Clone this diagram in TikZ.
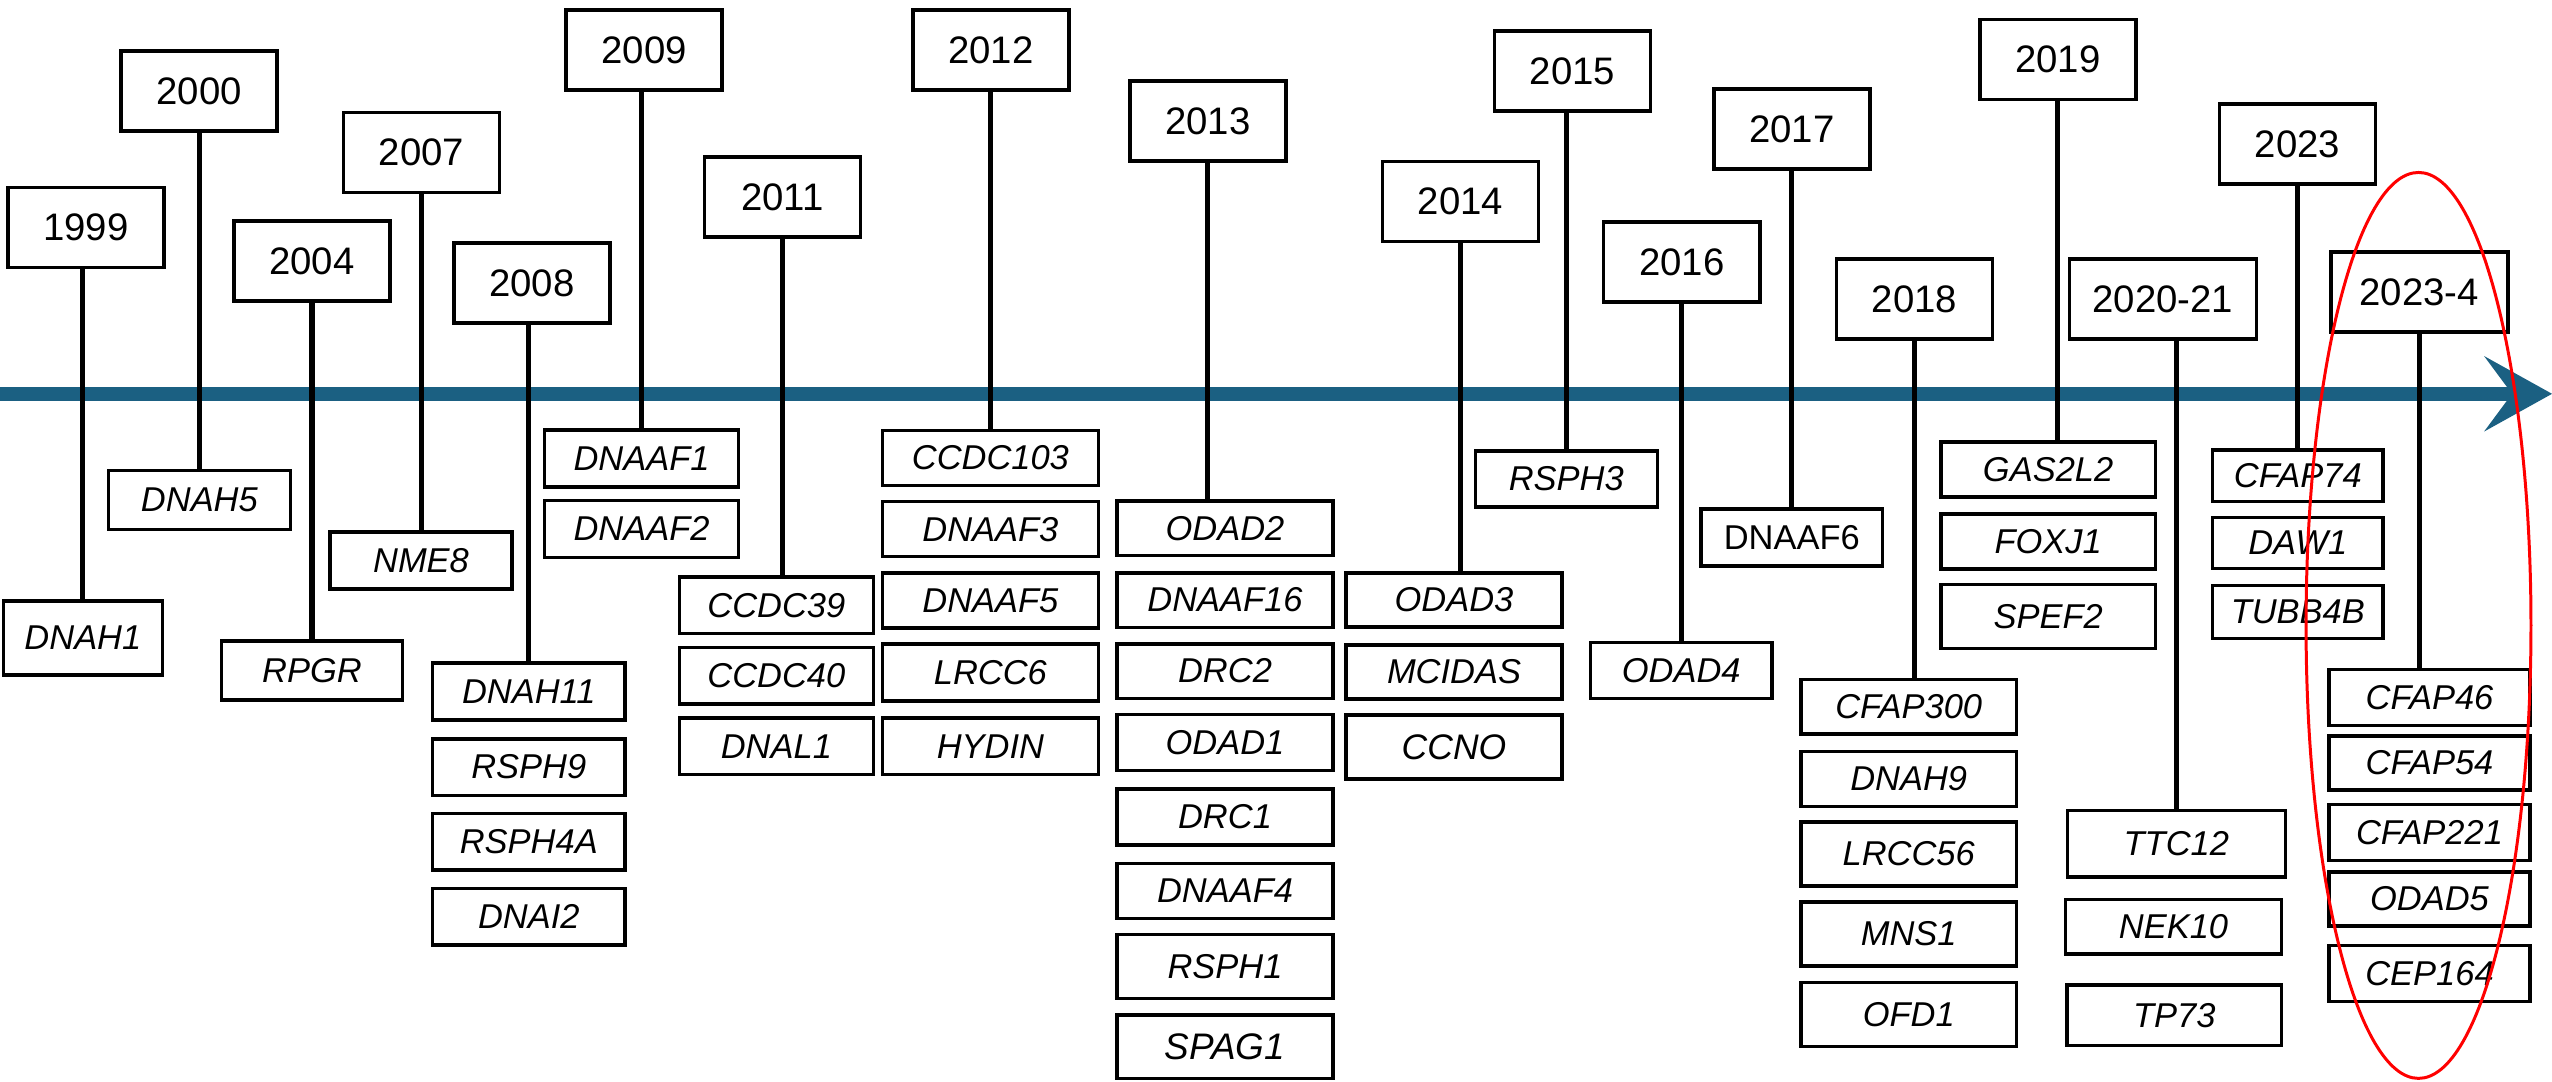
\documentclass[tikz,border=0pt]{standalone}
\usepackage{fontspec}
\setmainfont{Liberation Sans}
\definecolor{axisblue}{RGB}{27,96,130}
\tikzset{
  yr/.style={draw, line width=1.0pt, fill=white, inner sep=0pt, minimum width=1.56cm, minimum height=0.80cm,
    font=\fontsize{10.9}{12}\selectfont},
  gene/.style={draw, line width=1.0pt, fill=white, inner sep=0pt,
    font=\fontsize{9.8}{11}\selectfont\itshape},
  conn/.style={line width=1.45pt, black},
}
\begin{document}
\begin{tikzpicture}[x=0.01cm, y=-0.01cm]
\useasboundingbox (0,0) rectangle (2552,1081);
% axis
\coordinate (axL) at (0,393.8);
\coordinate (axR) at (2513,393.8);
\coordinate (tip) at (2552,393.8);
\draw[line width=4.07pt, axisblue] (axL) -- (axR);
\fill[axisblue] (tip) -- (2484,356) -- (2512,393.8) -- (2484,431.6) -- cycle;

% year boxes
\node[yr] (y1999) at (86,227.7) {1999};
\node[yr] (y2000) at (199.2,90.9) {2000};
\node[yr] (y2004) at (312,261) {2004};
\node[yr] (y2007) at (421.4,152.5) {2007};
\node[yr] (y2008) at (531.8,282.8) {2008};
\node[yr] (y2009) at (644.2,50.1) {2009};
\node[yr] (y2011) at (782.5,197.1) {2011};
\node[yr] (y2012) at (990.8,50.1) {2012};
\node[yr] (y2013) at (1207.8,120.9) {2013};
\node[yr] (y2014) at (1460.5,201.5) {2014};
\node[yr] (y2015) at (1572.5,71) {2015};
\node[yr] (y2016) at (1681.7,262.2) {2016};
\node[yr] (y2017) at (1791.9,129.2) {2017};
\node[yr] (y2018) at (1914.3,299.1) {2018};
\node[yr] (y2019) at (2057.9,59.3) {2019};
\node[yr, minimum width=1.87cm] (y2020) at (2162.9,299.1) {2020-21};
\node[yr] (y2023) at (2297.5,143.9) {2023};
\node[yr, minimum width=1.77cm] (y2024) at (2419.3,292) {2023-4};

% gene boxes
\node[gene, minimum width=1.59cm, minimum height=0.74cm] (g1999) at (82.9,638) {DNAH1};
\node[gene, minimum width=1.82cm, minimum height=0.59cm] (g2000) at (199.4,500.2) {DNAH5};
\node[gene, minimum width=1.81cm, minimum height=0.59cm] (g2004) at (312,670.3) {RPGR};
\node[gene, minimum width=1.815cm, minimum height=0.565cm] (g2007) at (421,560.5) {NME8};

\tikzset{c08/.style={gene, minimum width=1.925cm, minimum height=0.565cm}}
\node[c08] (g2008a) at (528.8,691.5) {DNAH11};
\node[c08] (g2008b) at (528.8,767.1) {RSPH9};
\node[c08] (g2008c) at (528.8,841.8) {RSPH4A};
\node[c08] (g2008d) at (528.8,916.9) {DNAI2};

\tikzset{c09/.style={gene, minimum width=1.94cm, minimum height=0.57cm}}
\node[c09] (g2009a) at (641.5,458.3) {DNAAF1};
\node[c09] (g2009b) at (641.5,528.8) {DNAAF2};

\tikzset{c11/.style={gene, minimum width=1.94cm, minimum height=0.563cm}}
\node[c11] (g2011a) at (776.4,605.4) {CCDC39};
\node[c11] (g2011b) at (776.4,675.7) {CCDC40};
\node[c11] (g2011c) at (776.4,746.2) {DNAL1};

\tikzset{c12/.style={gene, minimum width=2.16cm, minimum height=0.55cm}}
\node[c12] (g2012a) at (990.4,457.9) {CCDC103};
\node[c12] (g2012b) at (990.4,529.2) {DNAAF3};
\node[c12] (g2012c) at (990.4,600.5) {DNAAF5};
\node[c12, minimum height=0.565cm] (g2012d) at (990.4,672.5) {LRCC6};
\node[c12, minimum height=0.565cm] (g2012e) at (990.4,746.2) {HYDIN};

\tikzset{c13/.style={gene, minimum width=2.16cm, minimum height=0.545cm}}
\node[c13] (g2013a) at (1225,528.2) {ODAD2};
\node[c13] (g2013b) at (1225,600) {DNAAF16};
\node[c13] (g2013c) at (1225,671) {DRC2};
\node[c13, minimum height=0.56cm] (g2013d) at (1225,742.7) {ODAD1};
\node[c13, minimum height=0.56cm] (g2013e) at (1225,817) {DRC1};
\node[c13, minimum height=0.55cm] (g2013f) at (1225,890.9) {DNAAF4};
\node[c13, minimum height=0.64cm] (g2013g) at (1225,966.4) {RSPH1};
\node[c13, minimum height=0.635cm, font=\fontsize{10.5}{12}\selectfont\itshape] (g2013h) at (1225,1046.8) {SPAG1};

\tikzset{c14/.style={gene, minimum width=2.16cm, minimum height=0.54cm}}
\node[c14] (g2014a) at (1454,600) {ODAD3};
\node[c14] (g2014b) at (1454,671.9) {MCIDAS};
\node[c14, minimum height=0.64cm, font=\fontsize{10.1}{12}\selectfont\itshape] (g2014c) at (1454,746.8) {CCNO};

\node[gene, minimum width=1.82cm, minimum height=0.56cm] (g2015) at (1566.3,479) {RSPH3};
\node[gene, minimum width=1.81cm, minimum height=0.56cm] (g2016) at (1681.2,670.4) {ODAD4};
\node[gene, minimum width=1.815cm, minimum height=0.57cm, font=\fontsize{9.8}{11}\selectfont\upshape] (g2017) at (1791.8,537.5) {DNAAF6};

\tikzset{c18/.style={gene, minimum width=2.156cm, minimum height=0.548cm}}
\node[c18] (g2018a) at (1908.7,706.8) {CFAP300};
\node[c18] (g2018b) at (1908.7,778.9) {DNAH9};
\node[c18, minimum height=0.64cm] (g2018c) at (1908.7,853.8) {LRCC56};
\node[c18, minimum height=0.64cm] (g2018d) at (1908.7,934) {MNS1};
\node[c18, minimum height=0.64cm] (g2018e) at (1908.7,1014.4) {OFD1};

\tikzset{c19/.style={gene, minimum width=2.144cm, minimum height=0.55cm}}
\node[c19] (g2019a) at (2048.1,469.5) {GAS2L2};
\node[c19] (g2019b) at (2048.1,541.5) {FOXJ1};
\node[c19, minimum height=0.64cm] (g2019c) at (2048.1,616.4) {SPEF2};

\node[gene, minimum width=2.18cm, minimum height=0.665cm] (g2020a) at (2176.3,843.7) {TTC12};
\node[gene, minimum width=2.16cm, minimum height=0.546cm] (g2020b) at (2173.5,926.6) {NEK10};
\node[gene, minimum width=2.143cm, minimum height=0.604cm] (g2020c) at (2174.3,1015.2) {TP73};

\tikzset{c23/.style={gene, minimum width=1.707cm, minimum height=0.514cm}}
\node[c23] (g2023a) at (2297.8,475.7) {CFAP74};
\node[c23] (g2023b) at (2297.8,543) {DAW1};
\node[c23, minimum height=0.53cm] (g2023c) at (2297.8,611.8) {TUBB4B};

\tikzset{c24/.style={gene, minimum width=2.008cm, minimum height=0.56cm}}
\node[c24] (g2024a) at (2429.5,697.3) {CFAP46};
\node[c24, minimum height=0.54cm] (g2024b) at (2429.5,763) {CFAP54};
\node[c24] (g2024c) at (2429.5,832.3) {CFAP221};
\node[c24, minimum height=0.543cm] (g2024d) at (2429.5,899) {ODAD5};
\node[c24] (g2024e) at (2429.5,973.7) {CEP164};

% connectors
\draw[conn] (g1999.north |- y1999.south) -- (g1999.north);
\draw[conn] (y2000.south) -- (y2000.south |- g2000.north);
\draw[conn] (y2004.south) -- (y2004.south |- g2004.north);
\draw[conn] (y2007.south) -- (y2007.south |- g2007.north);
\draw[conn] (g2008a.north |- y2008.south) -- (g2008a.north);
\draw[conn] (g2009a.north |- y2009.south) -- (g2009a.north);
\draw[conn] (y2011.south) -- (y2011.south |- g2011a.north);
\draw[conn] (y2012.south) -- (y2012.south |- g2012a.north);
\draw[conn] (y2013.south) -- (y2013.south |- g2013a.north);
\draw[conn] (y2014.south) -- (y2014.south |- g2014a.north);
\draw[conn] (g2015.north |- y2015.south) -- (g2015.north);
\draw[conn] (y2016.south) -- (y2016.south |- g2016.north);
\draw[conn] (y2017.south) -- (y2017.south |- g2017.north);
\draw[conn] (y2018.south) -- (y2018.south |- g2018a.north);
\draw[conn] (y2019.south) -- (y2019.south |- g2019a.north);
\draw[conn] (g2020a.north |- y2020.south) -- (g2020a.north);
\draw[conn] (y2023.south) -- (y2023.south |- g2023a.north);
\draw[conn] (y2024.south) -- (y2024.south |- g2024a.north);

% red ellipse
\draw[red, line width=0.85pt] (2418.5,625.4) ellipse [x radius=1.124cm, y radius=4.527cm];
\end{tikzpicture}
\end{document}
